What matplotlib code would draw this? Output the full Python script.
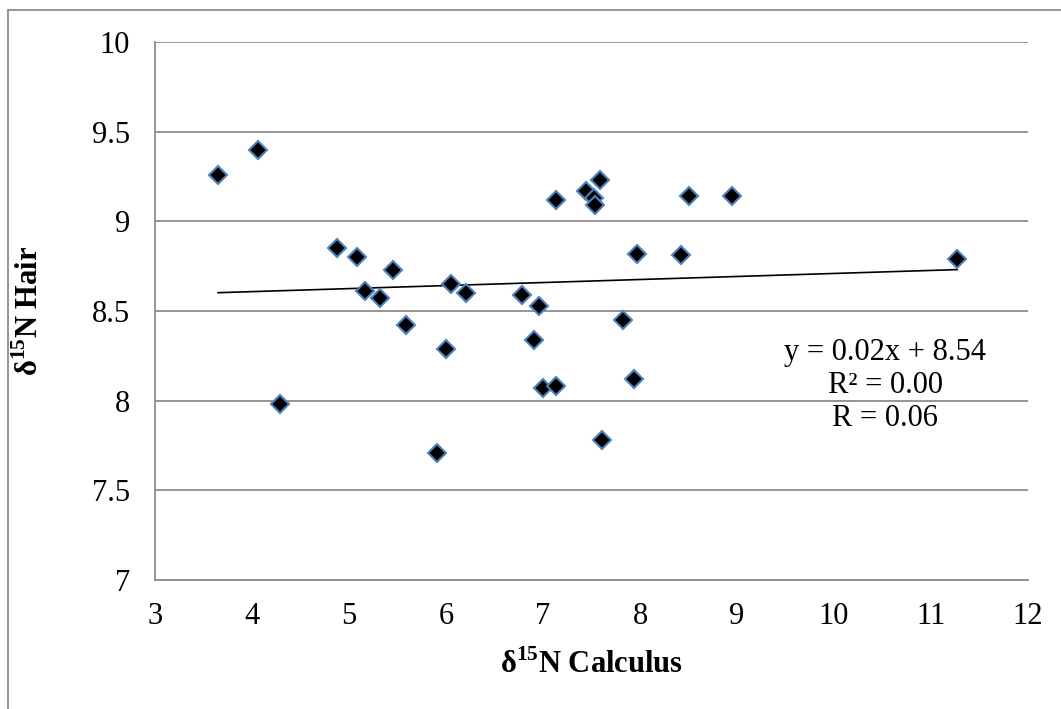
"""δ15N hair vs calculus scatter, Excel-like style."""
import matplotlib
matplotlib.use("Agg")
import matplotlib.pyplot as plt
import numpy as np
from matplotlib.patches import Rectangle

plt.rcParams["font.family"] = ["Liberation Serif", "DejaVu Serif"]
plt.rcParams["mathtext.fontset"] = "custom"
plt.rcParams["mathtext.rm"] = "Liberation Serif"
plt.rcParams["mathtext.bf"] = "Liberation Serif:bold"

GRID = "#8c8c8c"
EDGE = "#4f81bd"

calculus = [3.65, 4.06, 4.29, 4.88, 5.08, 5.16, 5.32, 5.45, 5.59, 5.91,
            6.00, 6.05, 6.21, 6.78, 6.91, 6.96, 7.00, 7.13, 7.13, 7.44,
            7.53, 7.54, 7.59, 7.61, 7.82, 7.94, 7.97, 8.42, 8.51, 8.95, 11.27]
hair = [9.26, 9.40, 7.98, 8.85, 8.80, 8.61, 8.57, 8.73, 8.42, 7.71,
        8.29, 8.65, 8.60, 8.59, 8.34, 8.53, 8.07, 8.08, 9.12, 9.17,
        9.13, 9.09, 9.23, 7.78, 8.45, 8.12, 8.82, 8.81, 9.14, 9.14, 8.79]
x_ticks = [3, 4, 5, 6, 7, 8, 9, 10, 11, 12]
y_ticks = [7, 7.5, 8, 8.5, 9, 9.5, 10]
fit_label = "y = 0.02x + 8.54\nR² = 0.00\nR = 0.06"

x = np.array(calculus)
y = np.array(hair)

fig = plt.figure(figsize=(10.61, 7.09), dpi=100)
ax = fig.add_axes([0.1461, 0.1819, 0.8228, 0.7589])

# outer chart frame (only top and left edges are visible in the crop)
fig.patches.append(Rectangle((0.0075, -0.2), 1.3, 0.986 + 0.2, transform=fig.transFigure,
                             fill=False, edgecolor=GRID, linewidth=1.3, clip_on=False))

ax.set_xlim(3, 12)
ax.set_ylim(7, 10)
ax.set_xticks(x_ticks)
ax.set_yticks(y_ticks)
ax.set_yticklabels([f"{t:g}" for t in y_ticks])
ax.tick_params(length=0, labelsize=22, colors="black")
ax.tick_params(axis="y", pad=18)
ax.tick_params(axis="x", pad=16)

ax.grid(True, axis="y", color=GRID, linewidth=1.3)
ax.set_axisbelow(True)
for side in ("top", "right"):
    ax.spines[side].set_visible(False)
for side in ("left", "bottom"):
    ax.spines[side].set_color(GRID)
    ax.spines[side].set_linewidth(1.3)

# linear trend line
slope, intercept = np.polyfit(x, y, 1)
xs = np.array([x.min(), x.max()])
ax.plot(xs, slope * xs + intercept, color="black", linewidth=1.2, zorder=2)

ax.plot(x, y, linestyle="none", marker="D", markersize=9.5, markerfacecolor="black",
        markeredgecolor=EDGE, markeredgewidth=1.5, zorder=3)

ax.text(10.53, 8.085, fit_label, ha="center", va="center", multialignment="center",
        fontsize=22, linespacing=1.2)

ax.set_xlabel(r"δ$^{\mathbf{15}}$N Calculus", fontsize=22, fontweight="bold")
ax.xaxis.set_label_coords(0.5, -0.128)
ax.set_ylabel(r"δ$^{\mathbf{15}}$N Hair", fontsize=22, fontweight="bold", va="center")
ax.yaxis.set_label_coords(-0.143, 0.5)

fig.savefig("out.png", dpi=100, facecolor="white")
